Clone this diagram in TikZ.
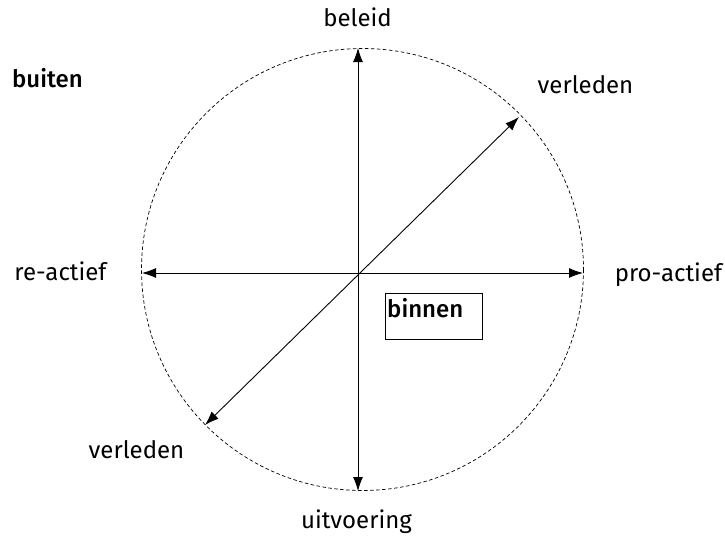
\documentclass[tikz,border=0pt]{standalone}
\usepackage{fontspec}
\setmainfont{Fira Sans}[BoldFont={Fira Sans Medium}]
\usetikzlibrary{arrows.meta}
\begin{document}
\begin{tikzpicture}[x=1pt,y=-1pt,
  lbl/.style={font=\fontsize{24}{28}\selectfont,anchor=base,inner sep=0pt},
  axis/.style={line width=0.9pt,{Latex[length=14pt,width=10pt]}-{Latex[length=14pt,width=10pt]}},
  ring/.style={dashed,dash pattern=on 3.5pt off 2.5pt,line width=0.7pt}]
\useasboundingbox (0,0) rectangle (725,538);
\coordinate (c) at (362.5,269.5);
\draw[ring] (c) circle (221);
\coordinate (top) at (358,48);
\coordinate (bot) at (358,491);
\coordinate (lft) at (142,273);
\coordinate (rgt) at (583,273);
\coordinate (ur) at (519,117);
\coordinate (ll) at (205,425);
\draw[axis] (top) -- (bot);
\draw[axis] (lft) -- (rgt);
\draw[axis] (ll) -- (ur);
\node[lbl] (beleid) at (357.5,27) {beleid};
\node[lbl] (uitv) at (356.5,528) {uitvoering};
\node[lbl] (re) at (60.5,280) {re-actief};
\node[lbl] (pro) at (668.5,281) {pro-actief};
\node[lbl] (v1) at (585.5,93) {verleden};
\node[lbl] (v2) at (136.5,458) {verleden};
\node[lbl,font=\fontsize{24}{28}\selectfont\bfseries] (buiten) at (47.5,87) {buiten};
\draw[line width=0.8pt] (385,293) rectangle (482,339);
\node[lbl,font=\fontsize{24}{28}\selectfont\bfseries,anchor=base west] (binnen) at (387,317) {binnen};
\end{tikzpicture}
\end{document}
